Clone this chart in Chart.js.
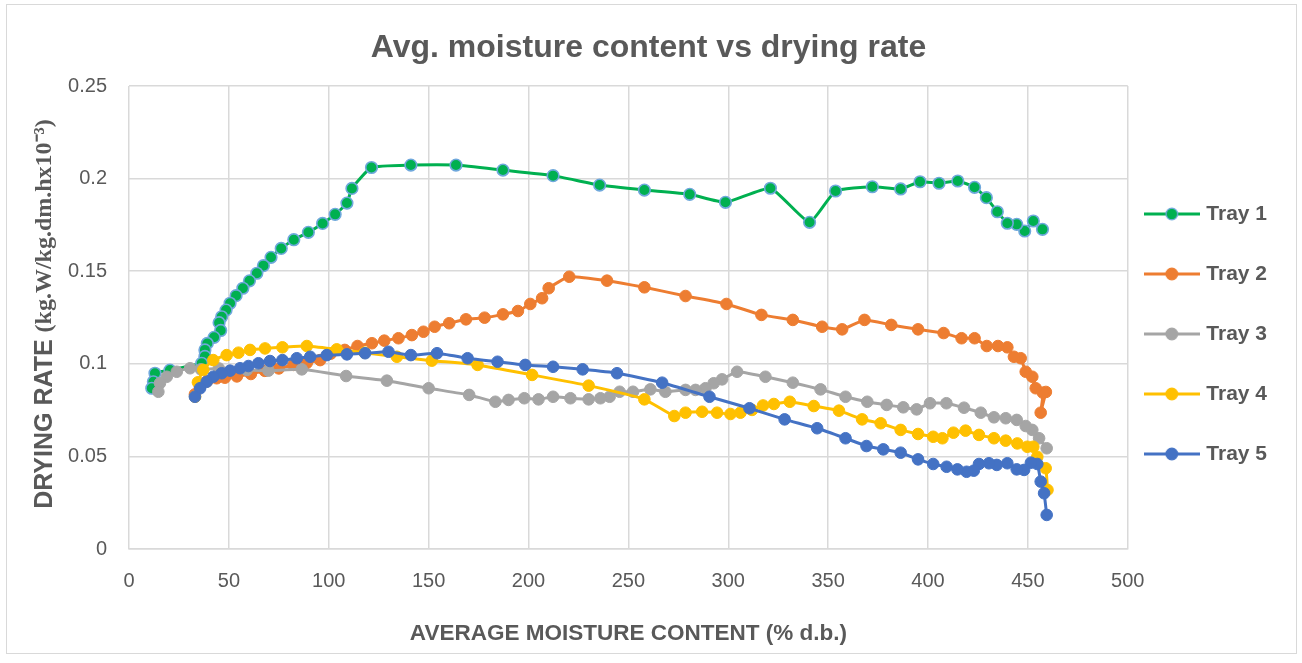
<!DOCTYPE html>
<html>
<head>
<meta charset="utf-8">
<script src="https://cdn.jsdelivr.net/npm/chart.js@4"></script>
<style>
  body { margin: 0; background: #fff; }
  #wrap { position: relative; width: 1302px; height: 663px; }
  #frame { position: absolute; left: 6px; top: 4px; width: 1289px; height: 648px; border: 1.5px solid #d9d9d9; pointer-events: none; }
</style>
</head>
<body>
<div id="wrap">
  <canvas id="chart" width="1302" height="663"></canvas>
  <div id="frame"></div>
</div>
<script>
// Tray 1
const tray1X = [457.3, 452.7, 448.4, 444.4, 439.7, 434.7, 429.2, 423.3, 414.9, 405.5, 396, 386.3, 372.1, 353.7, 340.7, 321.1, 298.6, 280.7, 258, 235.6, 212.3, 187.2, 163.7, 141.1, 121.4, 111.6, 109.1, 103.2, 96.9, 89.8, 82.5, 76.2, 71.1, 67.3, 64, 60.3, 57, 53.6, 50.6, 48.6, 46.4, 45.1, 45.9, 42.6, 39.2, 38, 38, 36.4, 20.5, 13, 12.2, 11.4];
const tray1Y = [0.1726, 0.1771, 0.1717, 0.1753, 0.1759, 0.1821, 0.1897, 0.1953, 0.1987, 0.1975, 0.1983, 0.1944, 0.1956, 0.1933, 0.1764, 0.1948, 0.1872, 0.1915, 0.1938, 0.1965, 0.2016, 0.2046, 0.2073, 0.2073, 0.206, 0.1947, 0.1868, 0.1807, 0.1758, 0.171, 0.167, 0.1623, 0.1575, 0.153, 0.1489, 0.1448, 0.1408, 0.1368, 0.1327, 0.129, 0.1254, 0.1222, 0.118, 0.1143, 0.111, 0.1075, 0.104, 0.1003, 0.0966, 0.0949, 0.0903, 0.0868];

// Tray 2
const tray2X = [459, 456.4, 457.5, 453.9, 452.2, 448.9, 446.4, 443, 439.7, 435, 429.4, 423.3, 416.8, 407.8, 395, 381.6, 368.2, 357, 347, 332.3, 316.6, 299.1, 278.6, 258, 239.3, 220.4, 210.1, 206.8, 200.9, 194.7, 187.2, 178, 168.7, 160.3, 153, 147.4, 141.6, 134.9, 127.8, 121.6, 114.4, 108, 101, 95.7, 89, 82.3, 75, 68, 61, 54, 48, 43.9, 39, 35.5, 33];
const tray2Y = [0.0848, 0.0736, 0.0844, 0.0868, 0.093, 0.0957, 0.103, 0.1038, 0.1089, 0.1096, 0.1096, 0.1138, 0.1138, 0.1166, 0.1186, 0.121, 0.1237, 0.1186, 0.12, 0.1237, 0.1264, 0.1323, 0.1366, 0.1413, 0.1449, 0.147, 0.1408, 0.1354, 0.1323, 0.1285, 0.1267, 0.1249, 0.124, 0.1219, 0.12, 0.1173, 0.1155, 0.1138, 0.1125, 0.1111, 0.1096, 0.1075, 0.1055, 0.102, 0.1005, 0.0994, 0.0975, 0.0962, 0.0945, 0.0932, 0.0925, 0.0922, 0.0905, 0.0875, 0.0835];

// Tray 3
const tray3X = [459.4, 455.6, 452.2, 448.9, 444.4, 438.9, 433, 426.4, 418, 409.2, 401, 394.3, 387.6, 379.3, 369.6, 358.7, 346.2, 332.3, 318.6, 304.4, 296.9, 292.7, 288.6, 283.6, 278.6, 268.5, 261, 252.3, 245.6, 240.6, 236, 230.1, 221, 212.3, 205, 197.9, 190, 183.4, 170.3, 150, 129.1, 108.7, 86.5, 69.8, 59, 45, 36, 30.6, 23.9, 18.9, 15.5, 14.7];
const tray3Y = [0.0544, 0.0598, 0.0643, 0.0664, 0.0697, 0.0706, 0.0711, 0.0736, 0.0763, 0.0787, 0.0787, 0.0754, 0.0765, 0.0778, 0.0795, 0.0822, 0.0862, 0.0898, 0.093, 0.0957, 0.0916, 0.0895, 0.0868, 0.0859, 0.0859, 0.0849, 0.0862, 0.0849, 0.0849, 0.0822, 0.0814, 0.0808, 0.0814, 0.0822, 0.0808, 0.0814, 0.0805, 0.0795, 0.0832, 0.0868, 0.0909, 0.0934, 0.097, 0.0963, 0.0967, 0.0975, 0.097, 0.0976, 0.0957, 0.093, 0.0895, 0.0849];

// Tray 4
const tray4X = [459.8, 458.9, 454.7, 452.7, 449.7, 444.7, 438.9, 433, 425.5, 418.8, 412.7, 407.2, 402.6, 395, 386.3, 376.3, 367, 355.4, 342.8, 330.8, 322.8, 317.4, 311.9, 306.1, 301.1, 294.4, 286.9, 278.6, 273, 258, 230.1, 201.8, 174.5, 151.6, 134.1, 118, 104, 89, 76.8, 68.1, 60.6, 54.8, 48.9, 42.2, 37.2, 34.5, 33.1];
const tray4Y = [0.0319, 0.0436, 0.0498, 0.0552, 0.0552, 0.057, 0.0585, 0.0598, 0.0616, 0.0639, 0.0628, 0.0598, 0.0606, 0.0621, 0.0643, 0.0679, 0.07, 0.0747, 0.0772, 0.0795, 0.0783, 0.0775, 0.0751, 0.0736, 0.0729, 0.0736, 0.0741, 0.0736, 0.0718, 0.0808, 0.0882, 0.094, 0.0994, 0.1017, 0.1038, 0.106, 0.1078, 0.1096, 0.1089, 0.1083, 0.1075, 0.106, 0.1047, 0.102, 0.0967, 0.09, 0.0822];

// Tray 5
const tray5X = [459.4, 458.1, 456.4, 454.7, 451.5, 448.1, 444.4, 439.7, 434.4, 430.5, 425.5, 422.9, 419.3, 414.7, 409.3, 402.6, 395, 386.3, 377.6, 369.2, 358.7, 344.5, 328.2, 310.6, 290.6, 266.9, 244.3, 227.1, 212.3, 198.4, 184.5, 169.5, 154.2, 141.1, 129.9, 118.2, 109.1, 99, 90.7, 84, 76.8, 70.6, 64.8, 59.8, 55.6, 50.6, 46.4, 42.2, 38.9, 35.6, 33];
const tray5Y = [0.0184, 0.0301, 0.0364, 0.0459, 0.0466, 0.0427, 0.043, 0.0463, 0.0454, 0.0463, 0.0459, 0.0423, 0.0417, 0.043, 0.0444, 0.0459, 0.0484, 0.052, 0.0538, 0.0556, 0.0598, 0.0652, 0.07, 0.076, 0.0822, 0.0898, 0.0949, 0.097, 0.0984, 0.0994, 0.1011, 0.103, 0.1057, 0.1047, 0.1065, 0.1057, 0.1051, 0.1047, 0.1038, 0.103, 0.102, 0.1015, 0.1003, 0.0988, 0.0976, 0.0963, 0.0949, 0.093, 0.0903, 0.0868, 0.0822];

const seriesNames = ["Tray 1", "Tray 2", "Tray 3", "Tray 4", "Tray 5"];
const seriesX = [tray1X, tray2X, tray3X, tray4X, tray5X];
const seriesY = [tray1Y, tray2Y, tray3Y, tray4Y, tray5Y];
const lineColors = ["#00B050", "#ED7D31", "#A5A5A5", "#FFC000", "#4472C4"];
const markerBorders = ["#6FA8DC", "#ED7D31", "#A5A5A5", "#FFC000", "#4472C4"];

const xTicks = [0, 50, 100, 150, 200, 250, 300, 350, 400, 450, 500];
const yTicks = [0, 0.05, 0.1, 0.15, 0.2, 0.25];

const textGrey = "#595959";

// legend swatch: short line with a dot, like Excel
function swatch(i) {
  const c = document.createElement("canvas");
  c.width = 56; c.height = 14;
  const g = c.getContext("2d");
  g.strokeStyle = lineColors[i];
  g.lineWidth = 3;
  g.beginPath(); g.moveTo(0, 7); g.lineTo(56, 7); g.stroke();
  g.beginPath(); g.arc(28, 7, 5.8, 0, Math.PI * 2);
  g.fillStyle = lineColors[i]; g.fill();
  g.lineWidth = 1.3; g.strokeStyle = markerBorders[i]; g.stroke();
  return c;
}
const swatches = seriesNames.map((_, i) => swatch(i));

const datasets = seriesNames.map((name, i) => ({
  label: name,
  data: seriesX[i].map((x, j) => ({ x: x, y: seriesY[i][j] })),
  borderColor: lineColors[i],
  backgroundColor: lineColors[i],
  pointBackgroundColor: lineColors[i],
  pointBorderColor: markerBorders[i],
  pointBorderWidth: i === 0 ? 1.6 : 1,
  pointRadius: 5.8,
  borderWidth: 3,
  tension: 0.15,
  showLine: true,
  order: 5 - i
}));

// y axis title, two fonts like the original
const yTitlePlugin = {
  id: "yTitle",
  afterDraw(chart) {
    const ctx = chart.ctx;
    const part1 = "DRYING RATE ";
    const part2 = "(kg.W/kg.dm.hx10\u207B\u00B3)";
    const f1 = "bold 25px 'Liberation Sans', sans-serif";
    const f2 = "bold 24px 'Liberation Serif', serif";
    ctx.save();
    ctx.font = f1; const w1 = ctx.measureText(part1).width;
    ctx.font = f2; const w2 = ctx.measureText(part2).width;
    ctx.translate(45, 314);
    ctx.rotate(-Math.PI / 2);
    ctx.fillStyle = textGrey;
    ctx.textBaseline = "middle";
    ctx.textAlign = "left";
    const start = -(w1 + w2) / 2;
    ctx.font = f1; ctx.fillText(part1, start, 0);
    ctx.font = f2; ctx.fillText(part2, start + w1, 0);
    ctx.restore();
  }
};

new Chart(document.getElementById("chart"), {
  type: "scatter",
  data: { datasets: datasets },
  options: {
    responsive: false,
    animation: false,
    layout: { padding: { left: 20, right: 25, top: 0, bottom: 8 } },
    plugins: {
      title: {
        display: true,
        text: "Avg. moisture content vs drying rate",
        color: textGrey,
        font: { family: "'Liberation Sans', sans-serif", size: 32, weight: "bold" },
        padding: { top: 29, bottom: 18.6 }
      },
      legend: {
        position: "right",
        align: "center",
        title: { display: true, text: " ", color: "#fff", font: { size: 10, lineHeight: 1 }, padding: { top: 11, bottom: 11 } },
        labels: {
          usePointStyle: true,
          pointStyleWidth: 48,
          padding: 20,
          color: textGrey,
          font: { family: "'Liberation Sans', sans-serif", size: 21, weight: "bold", lineHeight: "40px" },
          generateLabels: (chart) => seriesNames.map((name, i) => ({
            text: [name],
            pointStyle: swatches[i],
            fillStyle: lineColors[i],
            strokeStyle: lineColors[i],
            lineWidth: 0,
            hidden: false,
            datasetIndex: i,
            fontColor: textGrey
          }))
        }
      },
      tooltip: { enabled: false }
    },
    scales: {
      x: {
        type: "linear",
        min: 0, max: 500,
        afterBuildTicks: (scale) => { scale.ticks = xTicks.map(v => ({ value: v })); },
        afterFit: (scale) => { scale.height = 106; },
        grid: { color: "#d9d9d9", lineWidth: 1.5, drawTicks: false },
        border: { color: "#d9d9d9", width: 1.5 },
        ticks: { color: textGrey, padding: 20, font: { family: "'Liberation Sans', sans-serif", size: 20 } },
        title: {
          display: true,
          text: "AVERAGE MOISTURE CONTENT (% d.b.)",
          color: textGrey,
          font: { family: "'Liberation Sans', sans-serif", size: 22.5, weight: "bold" },
          padding: { top: 20, bottom: 8 }
        }
      },
      y: {
        type: "linear",
        min: 0, max: 0.25,
        afterBuildTicks: (scale) => { scale.ticks = yTicks.map(v => ({ value: v })); },
        afterFit: (scale) => { scale.width = 109; },
        grid: { color: "#d9d9d9", lineWidth: 1.5, drawTicks: false },
        border: { display: false },
        ticks: { color: textGrey, padding: 22, font: { family: "'Liberation Sans', sans-serif", size: 20 }, callback: (v) => String(v) },
        title: { display: false }
      }
    }
  },
  plugins: [yTitlePlugin]
});
</script>
</body>
</html>
